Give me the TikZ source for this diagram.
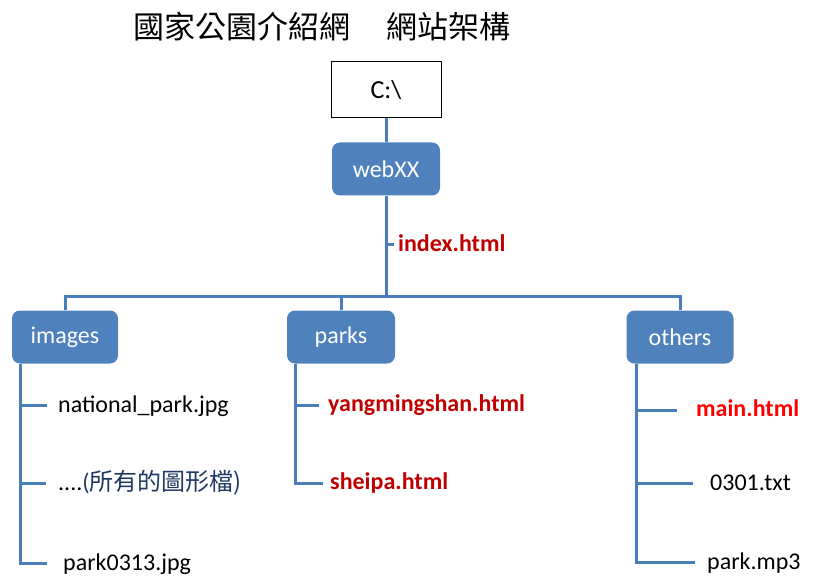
\documentclass[tikz,border=0pt]{standalone}
\usepackage{fontspec}
\setmainfont{Carlito}
\newfontfamily\cjk{Noto Sans CJK TC}
\usetikzlibrary{calc,positioning}
\definecolor{boxblue}{HTML}{4F81BD}
\definecolor{linkblue}{HTML}{4A7EBB}
\definecolor{pagered}{HTML}{C00000}
\definecolor{mainred}{HTML}{FF0000}
\definecolor{noteblue}{HTML}{1F3864}

\tikzset{
  folder/.style={fill=boxblue, rounded corners=8pt, minimum width=106pt, minimum height=53pt,
    text=white, font=\fontsize{24}{28}\selectfont},
  drivebox/.style={draw=black, fill=white, line width=1pt, minimum width=110pt, minimum height=56pt,
    font=\fontsize{26}{30}\selectfont},
  conn/.style={draw=linkblue, line width=3pt},
  fname/.style={anchor=base west, inner sep=0pt, font=\fontsize{24}{28}\selectfont},
  webpage/.style={fname, font=\fontsize{24}{28}\selectfont\bfseries, text=pagered},
}

\begin{document}
\begin{tikzpicture}[x=1pt,y=-1pt]
  \useasboundingbox (0,0) rectangle (817,588);
  % Title
  \node[font=\cjk\fontsize{31}{34}\selectfont, anchor=west, inner sep=0pt] (title) at (133,27)
    {國家公園介紹網\hspace{36pt}網站架構};

  % Drive and root folder
  \node[drivebox] (drive) at (386,90) {C:\textbackslash};
  \node[folder, minimum width=108pt] (web) at (386,169) {webXX};
  \draw[conn] (drive) -- (web);
  \coordinate (bus) at (386,297);
  \draw[conn] (web) -- (bus);
  \coordinate (idx) at (394,245);
  \node[webpage] (index) at (398,252) {index.html};
  \draw[conn] (idx -| web) -- (idx);

  % Sub folders
  \node[folder] (images) at (65,337) {images};
  \node[folder, minimum width=108pt] (parks) at (341,337) {parks};
  \node[folder, minimum width=107pt] (others) at (680,337) {others};
  \draw[conn] (images.north) |- (bus) -| (others.north);
  \draw[conn] (parks.north) -- (parks.north |- bus);

  % images
  \coordinate (img-trunk) at ($(images.south west)+(9,0)$);
  \foreach \n/\y/\tx/\lx/\txt in {
    1/405/47/58/{national\_park.jpg},
    2/483/46/58/{....\textcolor{noteblue}{(\cjk 所有的圖形檔)}},
    3/563/47/63/{park0313.jpg}%
  } {
    \coordinate (img-t\n) at (\tx,\y);
    \node[fname] (img-f\n) at (\lx,\y+7) {\txt};
    \draw[conn] (img-trunk |- img-t\n) -- (img-t\n);
  }
  \draw[conn] (img-trunk) |- (img-t3);

  % parks
  \coordinate (park-trunk) at ($(parks.south west)+(9,0)$);
  \foreach \n/\y/\tx/\lx/\txt in {
    1/405/319/328/{yangmingshan.html},
    2/483/323/330/{sheipa.html}%
  } {
    \coordinate (park-t\n) at (\tx,\y);
    \node[webpage] (park-f\n) at (\lx,\y+6) {\txt};
    \draw[conn] (park-trunk |- park-t\n) -- (park-t\n);
  }
  \draw[conn] (park-trunk) |- (park-t2);

  % others
  \coordinate (oth-trunk) at ($(others.south west)+(10,0)$);
  \coordinate (oth-t1) at (677,410);
  \node[webpage, text=mainred] (oth-f1) at (696,416) {main.html};
  \draw[conn] (oth-trunk |- oth-t1) -- (oth-t1);
  \foreach \n/\y/\tx/\lx/\txt in {
    2/483/693/710/{0301.txt},
    3/562/695/707/{park.mp3}%
  } {
    \coordinate (oth-t\n) at (\tx,\y);
    \node[fname] (oth-f\n) at (\lx,\y+7) {\txt};
    \draw[conn] (oth-trunk |- oth-t\n) -- (oth-t\n);
  }
  \draw[conn] (oth-trunk) |- (oth-t3);
\end{tikzpicture}
\end{document}
